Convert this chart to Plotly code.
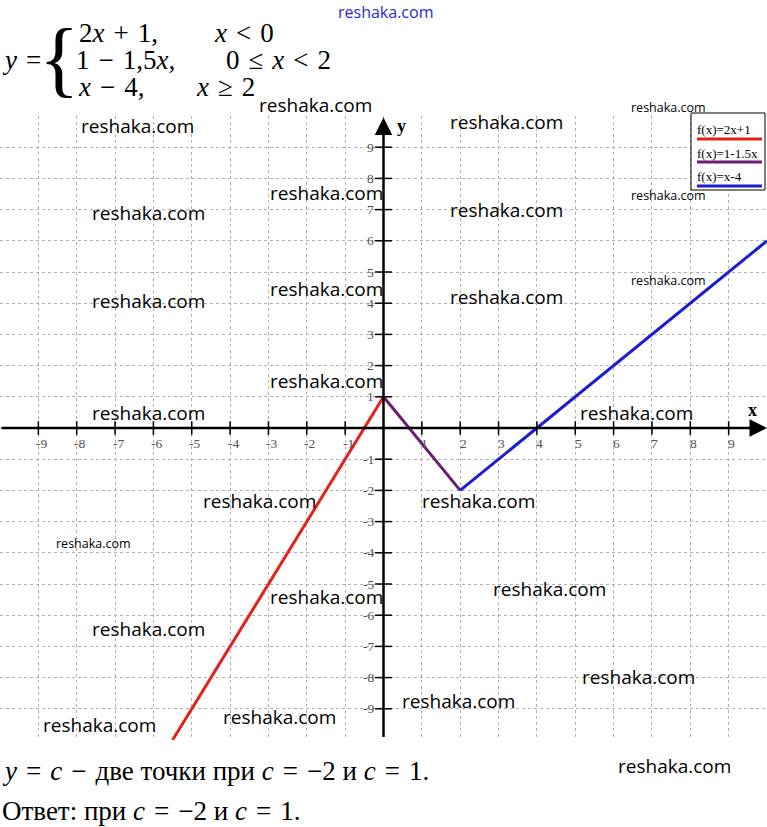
import plotly.graph_objects as go

# ---- data ----
red_x = [-5.5, 0]
red_y = [-10, 1]
purple_x = [0, 2]
purple_y = [1, -2]
blue_x = [2, 10]
blue_y = [-2, 6]

x_ticks = [-9, -8, -7, -6, -5, -4, -3, -2, -1, 1, 2, 3, 4, 5, 6, 7, 8, 9]
y_ticks = [-9, -8, -7, -6, -5, -4, -3, -2, -1, 1, 2, 3, 4, 5, 6, 7, 8, 9]

legend_labels = ["f(x)=2x+1", "f(x)=1-1.5x", "f(x)=x-4"]
legend_colors = ["#e3211c", "#6b1d6e", "#1b1bd0"]

W, H = 767, 827
T, B = 116, 87
PH = H - T - B


def px(x):
    return x / W


def py(y):
    return (H - B - y) / PH


fig = go.Figure()
for xs, ys, c in [(red_x, red_y, legend_colors[0]),
                  (purple_x, purple_y, legend_colors[1]),
                  (blue_x, blue_y, legend_colors[2])]:
    fig.add_trace(go.Scatter(x=xs, y=ys, mode="lines",
                             line=dict(color=c, width=3), showlegend=False,
                             hoverinfo="skip"))

shapes = []
annotations = []

# axes with arrows
annotations.append(dict(x=10, y=0, ax=-10, ay=0, xref="x", yref="y", axref="x", ayref="y",
                        text="", showarrow=True, arrowhead=2, arrowsize=1.4,
                        arrowwidth=2.5, arrowcolor="black"))
annotations.append(dict(x=0, y=9.95, ax=0, ay=-9.95, xref="x", yref="y", axref="x", ayref="y",
                        text="", showarrow=True, arrowhead=2, arrowsize=1.4,
                        arrowwidth=2.5, arrowcolor="black"))

tick_font = dict(family="Liberation Serif", size=13.5, color="#505050")
for t in x_ticks:
    shapes.append(dict(type="line", xref="x", yref="y", x0=t, x1=t, y0=-0.22, y1=0.22,
                       line=dict(color="black", width=1.5)))
    annotations.append(dict(x=t, y=0, xref="x", yref="y", text=str(t), showarrow=False,
                            xshift=3, yshift=-15, font=tick_font))
for t in y_ticks:
    shapes.append(dict(type="line", xref="x", yref="y", x0=-0.22, x1=0.22, y0=t, y1=t,
                       line=dict(color="black", width=1.5)))
    annotations.append(dict(x=-0.2, y=t, xref="x", yref="y", text=str(t), showarrow=False,
                            xanchor="right", font=tick_font))

axis_font = dict(family="Liberation Serif", size=18, color="black")
annotations.append(dict(x=px(759), y=py(410), xref="paper", yref="paper", text="<b>x</b>",
                        showarrow=False, yanchor="middle", font=axis_font))
annotations.append(dict(x=px(402), y=py(126), xref="paper", yref="paper", text="<b>y</b>",
                        showarrow=False, yanchor="middle", font=axis_font))

# custom legend
shapes.append(dict(type="rect", xref="paper", yref="paper", x0=px(691), x1=px(765),
                   y0=py(190), y1=py(113), line=dict(color="black", width=1),
                   fillcolor="white", layer="above"))
leg_text_y = [129, 153, 176]
leg_line_y = [139, 162, 186]
for lab, col, ty, ly in zip(legend_labels, legend_colors, leg_text_y, leg_line_y):
    annotations.append(dict(x=px(695), y=py(ty), xref="paper", yref="paper", text=lab,
                            showarrow=False, xanchor="left", yanchor="middle",
                            font=dict(family="Liberation Serif", size=13, color="black")))
    shapes.append(dict(type="line", xref="paper", yref="paper", x0=px(697), x1=px(762),
                       y0=py(ly), y1=py(ly), line=dict(color=col, width=3), layer="above"))

# formula
ff = "Liberation Serif"
fsz = 27
S = "\u2004"  # three-per-em space (math spacing)


def txt(x, y, s, size=fsz, anchor="left", color="black", fam=ff):
    annotations.append(dict(x=px(x), y=py(y), xref="paper", yref="paper", text=s,
                            showarrow=False, xanchor=anchor, yanchor="middle",
                            font=dict(family=fam, size=size, color=color)))


txt(0, 60, f"<i>y</i>{S}=")
txt(37, 58, "{", size=84)
txt(77, 33, f"2<i>x</i>{S}+{S}1,")
txt(212, 33, f"<i>x</i>{S}&lt;{S}0")
txt(74, 60, f"1{S}−{S}1,5<i>x</i>,")
txt(224, 60, f"0{S}≤{S}<i>x</i>{S}&lt;{S}2")
txt(76, 87, f"<i>x</i>{S}−{S}4,")
txt(194, 87, f"<i>x</i>{S}≥{S}2")

txt(0, 771, f"<i>y</i>{S}={S}<i>c</i>{S}−{S}две точки при <i>c</i>{S}={S}−2 и <i>c</i>{S}={S}1.")
txt(0, 811, f"Ответ: при <i>c</i>{S}={S}−2 и <i>c</i>{S}={S}1.")

# watermarks
wm_big = [(315, 105), (137, 126), (506, 122), (148, 213), (326, 193), (506, 210),
          (148, 301), (326, 289), (506, 297), (326, 381), (148, 413), (636, 413),
          (259, 501), (478, 501), (549, 589), (326, 597), (148, 629), (638, 677),
          (458, 701), (99, 725), (279, 717), (674, 766)]
wm_small = [(668, 107), (668, 195), (668, 280), (93, 543)]
for x, y in wm_big:
    txt(x, y, "reshaka.com", size=19, anchor="center", fam="Open Sans")
for x, y in wm_small:
    txt(x, y, "reshaka.com", size=12.5, anchor="center", fam="Open Sans")
txt(385, 12, "reshaka.com", size=16, anchor="center", color="#2a2ae0", fam="Open Sans")

fig.update_layout(
    width=W, height=H,
    margin=dict(l=0, r=0, t=T, b=B),
    paper_bgcolor="white", plot_bgcolor="white",
    xaxis=dict(range=[-10, 10], tickvals=list(range(-10, 11)), showticklabels=False,
               showgrid=True, gridcolor="#b0b0b0", griddash="dot", gridwidth=1,
               zeroline=False, showline=False, ticks="", fixedrange=True),
    yaxis=dict(range=[-10, 10], tickvals=list(range(-10, 11)), showticklabels=False,
               showgrid=True, gridcolor="#b0b0b0", griddash="dot", gridwidth=1,
               zeroline=False, showline=False, ticks="", fixedrange=True),
    shapes=shapes, annotations=annotations, showlegend=False,
)

fig.write_html("out.html", config={"displayModeBar": False},
               post_script="document.body.style.margin='0';document.body.style.overflow='hidden';")
